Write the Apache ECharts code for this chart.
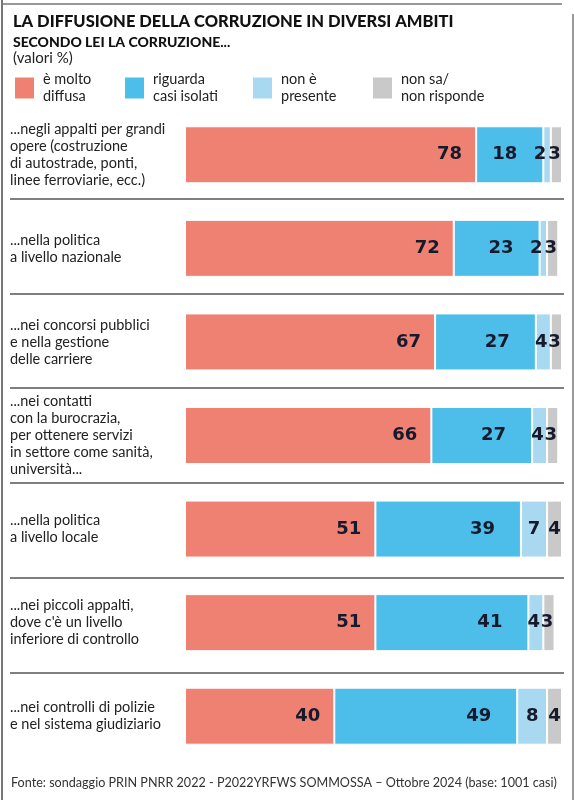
<!DOCTYPE html>
<html><head><meta charset="utf-8">
<script src="https://cdn.jsdelivr.net/npm/echarts@6/dist/echarts.min.js"></script>
<style>html,body{margin:0;padding:0;background:#fff}#c{width:574px;height:800px}</style>
</head><body><div id="c"></div>
<script>
const categories = [
  "...negli appalti per grandi\nopere (costruzione\ndi autostrade, ponti,\nlinee ferroviarie, ecc.)",
  "...nella politica\na livello nazionale",
  "...nei concorsi pubblici\ne nella gestione\ndelle carriere",
  "...nei contatti\ncon la burocrazia,\nper ottenere servizi\nin settore come sanità,\nuniversità...",
  "...nella politica\na livello locale",
  "...nei piccoli appalti,\ndove c'è un livello\ninferiore di controllo",
  "...nei controlli di polizie\ne nel sistema giudiziario"
];
const seriesNames = ["è molto\ndiffusa", "riguarda\ncasi isolati", "non è\npresente", "non sa/\nnon risponde"];
const molto = [78, 72, 67, 66, 51, 51, 40];
const isolati = [18, 23, 27, 27, 39, 41, 49];
const nonPresente = [2, 2, 4, 4, 7, 4, 8];
const nonSa = [3, 3, 3, 3, 4, 3, 4];
const colors = ["#EF8172", "#4DBEE9", "#A9D9F1", "#C9C9C9"];

const values = [molto, isolati, nonPresente, nonSa];
const labelFont = {fontFamily: "DejaVu Sans", fontWeight: "bold", fontSize: 18, color: "#161a2c"};

function makeData(arr, idx) {
  return arr.map(v => {
    let off = 0;
    if (idx === 2) off = v <= 2 ? -7 : (v <= 4 ? -2 : 0);
    if (idx === 3) off = v <= 3 ? -2 : 0;
    return {value: v, label: {offset: [off, 0]}};
  });
}

const series = values.map((arr, i) => ({
  name: seriesNames[i],
  type: "bar",
  stack: "tot",
  xAxisIndex: 0, yAxisIndex: 0,
  barWidth: 57,
  itemStyle: {color: colors[i], borderColor: "#fff", borderWidth: 1},
  label: Object.assign({
    show: true,
    position: i < 2 ? "insideRight" : "inside",
    distance: i === 0 ? 14 : 26
  }, labelFont),
  data: makeData(arr, i)
}));
// separator grid helper
series.push({type: "bar", xAxisIndex: 1, yAxisIndex: 1, data: [], silent: true});

const legendLefts = [13, 123, 251, 371];
const legends = seriesNames.map((n, i) => ({
  data: [n], left: legendLefts[i], top: 71, padding: 0,
  icon: "rect", itemWidth: 21, itemHeight: 23, itemGap: 0,
  selectedMode: false,
  textStyle: {fontFamily: "Lato", fontSize: 14.5, lineHeight: 17, color: "#222", padding: [0, 0, 0, 3]}
}));

const chart = echarts.init(document.getElementById("c"), null, {renderer: "canvas"});
chart.setOption({
  animation: false,
  color: colors,
  title: [
    {text: "LA DIFFUSIONE DELLA CORRUZIONE IN DIVERSI AMBITI", left: 13, top: 13, padding: 0,
     textStyle: {fontFamily: "Lato", fontWeight: 900, fontSize: 16.5, color: "#111"}},
    {text: "SECONDO LEI LA CORRUZIONE...", left: 13, top: 35, padding: 0,
     textStyle: {fontFamily: "Lato", fontWeight: 900, fontSize: 14, color: "#111"}},
    {text: "(valori %)", left: 13, top: 51, padding: 0,
     textStyle: {fontFamily: "Lato", fontWeight: "normal", fontSize: 15, color: "#222"}},
    {text: "Fonte: sondaggio PRIN PNRR 2022 - P2022YRFWS SOMMOSSA – Ottobre 2024 (base: 1001 casi)", left: 11, top: 776, padding: 0,
     textStyle: {fontFamily: "Lato", fontWeight: "normal", fontSize: 12.6, color: "#333"}}
  ],
  legend: legends,
  grid: [
    {left: 185, right: 12, top: 108, height: 655},
    {left: 10, right: 10, top: 104, height: 663}
  ],
  xAxis: [
    {type: "value", gridIndex: 0, min: 0, max: 101, show: false},
    {type: "value", gridIndex: 1, min: 0, max: 1, show: false}
  ],
  yAxis: [
    {type: "category", gridIndex: 0, data: categories, inverse: true,
     axisLine: {show: false}, axisTick: {show: false}, splitLine: {show: false},
     axisLabel: {align: "left", margin: 175, fontFamily: "Lato", fontSize: 14.5, lineHeight: 17, color: "#222"}},
    {type: "category", gridIndex: 1, data: categories, inverse: true,
     axisLine: {show: false}, axisTick: {show: false}, axisLabel: {show: false},
     splitLine: {show: true, showMinLine: false, showMaxLine: false, lineStyle: {color: "#555", width: 1.5}}}
  ],
  series: series,
  graphic: [
    {type: "line", shape: {x1: 2, y1: 0, x2: 2, y2: 800}, style: {stroke: "#777", lineWidth: 2}},
    {type: "line", shape: {x1: 2, y1: 4, x2: 562, y2: 4}, style: {stroke: "#777", lineWidth: 1.5}},
    {type: "line", shape: {x1: 573, y1: 14, x2: 573, y2: 800}, style: {stroke: "#777", lineWidth: 1.5}}
  ]
});
</script></body></html>
